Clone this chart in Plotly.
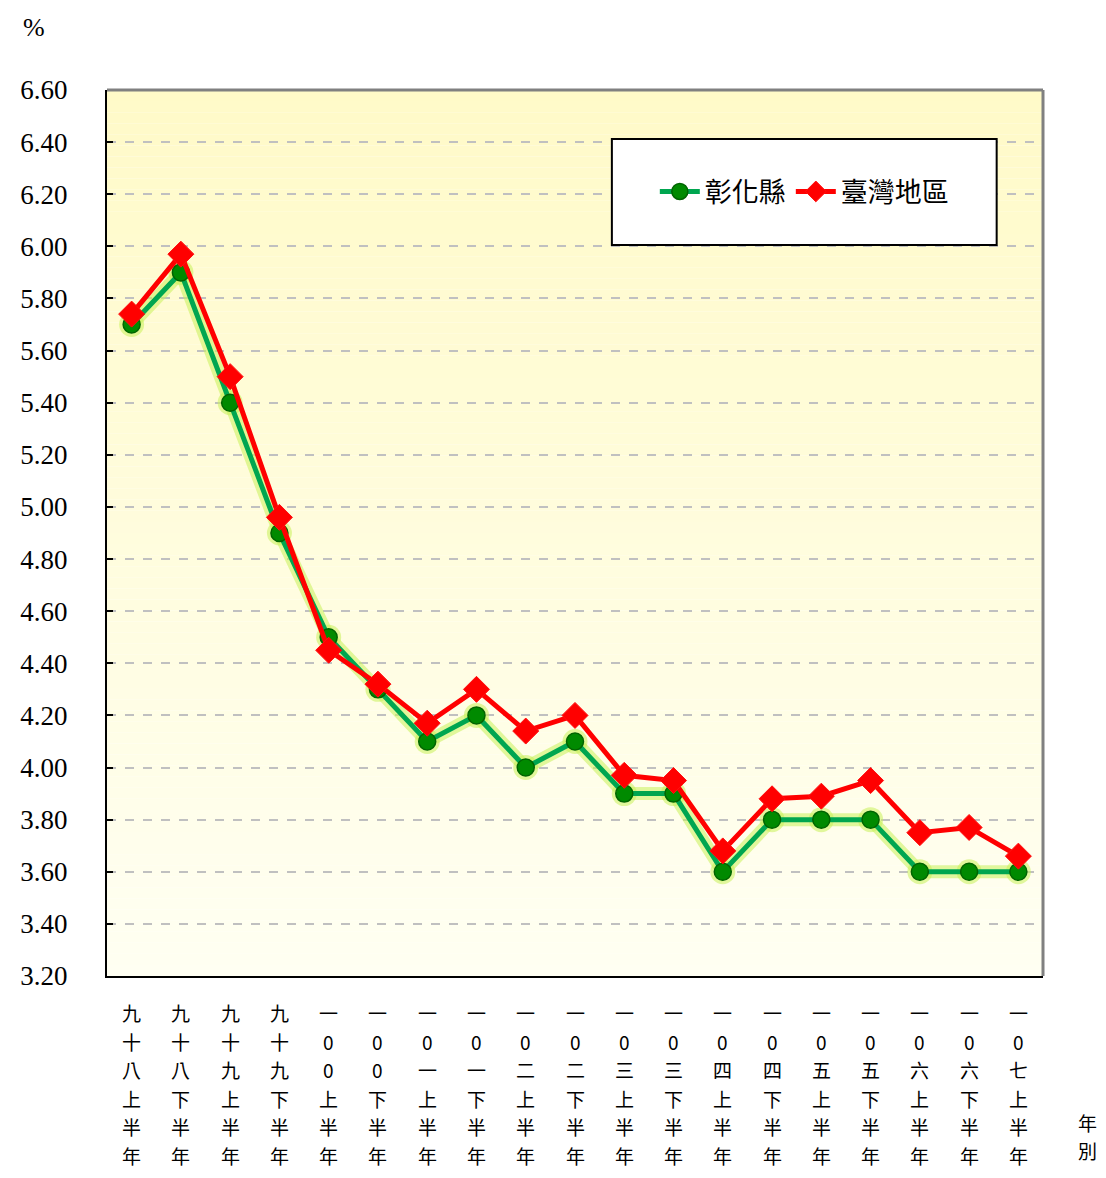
import plotly.graph_objects as go

categories = ["九十八上半年", "九十八下半年", "九十九上半年", "九十九下半年",
              "一00上半年", "一00下半年", "一0一上半年", "一0一下半年",
              "一0二上半年", "一0二下半年", "一0三上半年", "一0三下半年",
              "一0四上半年", "一0四下半年", "一0五上半年", "一0五下半年",
              "一0六上半年", "一0六下半年", "一0七上半年"]
changhua = [5.70, 5.90, 5.40, 4.90, 4.50, 4.30, 4.10, 4.20, 4.00, 4.10,
            3.90, 3.90, 3.60, 3.80, 3.80, 3.80, 3.60, 3.60, 3.60]
taiwan = [5.74, 5.97, 5.50, 4.96, 4.45, 4.32, 4.17, 4.30, 4.14, 4.20,
          3.97, 3.95, 3.68, 3.88, 3.89, 3.95, 3.75, 3.77, 3.66]
y_ticks = [3.2 + 0.2 * i for i in range(18)]
series_names = ["彰化縣", "臺灣地區"]
x_axis_title = "年別"
y_axis_title = "%"

CJK = "Noto Sans CJK TC"
NUM = "Liberation Serif, DejaVu Serif, serif"

PLOT_W, PLOT_H = 940, 886
LINE_GAP = 28.4  # vertical pitch of stacked label characters (px)

fig = go.Figure()

# glow under green series
fig.add_trace(go.Scatter(
    x=categories, y=changhua, mode="lines+markers", showlegend=False, hoverinfo="skip",
    line=dict(color="rgba(200,240,90,0.55)", width=13),
    marker=dict(size=25, color="rgba(200,240,90,0.55)", line=dict(width=0))))

fig.add_trace(go.Scatter(
    x=categories, y=changhua, mode="lines+markers", name=series_names[0],
    line=dict(color="#00A650", width=5),
    marker=dict(symbol="circle", size=17, color="#008A00", line=dict(color="#006400", width=1.5))))

fig.add_trace(go.Scatter(
    x=categories, y=taiwan, mode="lines+markers", name=series_names[1],
    line=dict(color="#FF0000", width=5),
    marker=dict(symbol="diamond", size=20, color="#FF0000", line=dict(color="#FF1010", width=1))))

# gradient background
shapes = []
n = 80
top = (255, 250, 200)
bot = (255, 255, 242)
for i in range(n):
    t = i / (n - 1)
    c = tuple(round(bot[k] + (top[k] - bot[k]) * t) for k in range(3))
    shapes.append(dict(type="rect", xref="paper", yref="paper", x0=0, x1=1,
                       y0=i / n, y1=(i + 1) / n, layer="below", line=dict(width=0),
                       fillcolor="rgb(%d,%d,%d)" % c))
# frame: top/right gray
shapes.append(dict(type="line", xref="paper", yref="paper", x0=0, x1=1, y0=1, y1=1,
                   line=dict(color="#808080", width=3)))
shapes.append(dict(type="line", xref="paper", yref="paper", x0=1, x1=1, y0=0, y1=1,
                   line=dict(color="#808080", width=3)))
# legend box
shapes.append(dict(type="rect", xref="paper", yref="paper", x0=0.5394, x1=0.9505,
                   y0=0.825, y1=0.9447, fillcolor="white", line=dict(color="black", width=2),
                   layer="above"))

annotations = []
# vertical (stacked) category labels, one character per line, tied to the x axis
for cat in categories:
    for j, ch in enumerate(cat):
        annotations.append(dict(
            text=ch, xref="x", yref="paper", x=cat, y=-(37 + LINE_GAP * j) / PLOT_H,
            xanchor="center", yanchor="middle", showarrow=False,
            font=dict(family=CJK, size=19, color="black")))
# x-axis title "年別", stacked
for j, ch in enumerate(x_axis_title):
    annotations.append(dict(
        text=ch, xref="paper", yref="paper", x=(1080 - 95) / PLOT_W,
        y=-(146 + LINE_GAP * j) / PLOT_H, xanchor="center", yanchor="middle",
        showarrow=False, font=dict(family=CJK, size=19, color="black")))
# y unit
annotations.append(dict(text=y_axis_title, xref="paper", yref="paper",
                        x=(22 - 95) / PLOT_W, y=(968 - 20) / PLOT_H,
                        xanchor="center", yanchor="middle", showarrow=False,
                        font=dict(family=NUM, size=26, color="black")))

# page has an 8px body margin, so the figure is sized to fit the window exactly
fig.update_layout(
    width=1090, height=1162,
    margin=dict(l=95, r=55, t=82, b=194),
    paper_bgcolor="white",
    plot_bgcolor="rgba(0,0,0,0)",
    shapes=shapes,
    annotations=annotations,
    showlegend=True,
    legend=dict(orientation="h", x=0.745, y=0.885, xanchor="center", yanchor="middle",
                bgcolor="rgba(0,0,0,0)", borderwidth=0,
                font=dict(family=CJK, size=27, color="black"),
                itemwidth=40, tracegroupgap=0),
    xaxis=dict(type="category", tickmode="array", tickvals=categories,
               showticklabels=False,
               showgrid=False, showline=True, linecolor="black", linewidth=2,
               ticks="", range=[-0.5, len(categories) - 0.5], zeroline=False),
    yaxis=dict(range=[3.2, 6.6], tickmode="array", tickvals=y_ticks,
               ticktext=["%.2f" % v for v in y_ticks],
               tickfont=dict(family=NUM, size=27, color="black"),
               showgrid=True, gridcolor="#C0C0C0", griddash="dash", gridwidth=2,
               showline=True, linecolor="black", linewidth=2,
               ticks="inside", ticklen=6, tickwidth=2, tickcolor="black",
               ticklabelstandoff=32, zeroline=False),
)

fig.write_html("out.html")
